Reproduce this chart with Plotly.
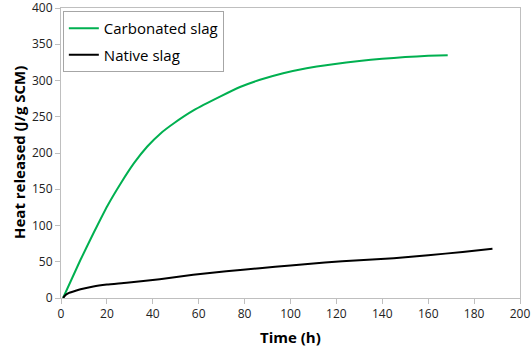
import plotly.graph_objects as go

carb_t = [0.9, 8.4, 14.4, 20.2, 26, 31.8, 37.6, 43.4, 49.2, 57.9, 69.5, 78, 86.7, 96.8, 107, 118.6, 130, 140, 150, 160, 168.5]
carb_v = [0, 52, 91, 127, 158, 186, 209, 227, 241, 259, 278, 291, 301, 310, 317, 322.5, 327, 330, 332.3, 334, 335]

nat_t = [0.9, 2, 3.5, 5.4, 9, 14.1, 20, 28.6, 43, 57.6, 72, 86.6, 100, 115, 130, 145, 160, 175, 188]
nat_v = [0, 4, 7, 9, 12.5, 16, 18.5, 21, 26, 32, 37, 41, 45, 49, 52, 55, 59, 63.5, 68]

x_ticks = [0, 20, 40, 60, 80, 100, 120, 140, 160, 180, 200]
y_ticks = [0, 50, 100, 150, 200, 250, 300, 350, 400]

font = "Open Sans"
fig = go.Figure()
fig.add_trace(go.Scatter(x=carb_t, y=carb_v, mode="lines", name="Carbonated slag", legendgroup="a",
                         line=dict(color="#00b050", width=2, shape="spline", smoothing=0.5)))
fig.add_trace(go.Scatter(x=nat_t, y=nat_v, mode="lines", name="Native slag", legendgroup="b",
                         line=dict(color="#000000", width=2, shape="spline", smoothing=0.5)))

axis_common = dict(showgrid=False, zeroline=False, showline=True, linecolor="#bfbfbf",
                   linewidth=1, mirror=True, ticks="outside", ticklen=5, tickcolor="#bfbfbf",
                   automargin=False, ticklabeloverflow="allow",
                   tickfont=dict(family=font, size=12, color="#222"))
fig.update_xaxes(range=[0, 200], tickvals=x_ticks, **axis_common)
fig.update_yaxes(range=[0, 400], tickvals=y_ticks, **axis_common)

fig.add_annotation(text="<b>Time (h)</b>", xref="paper", yref="paper", x=0.499, y=-0.135,
                   xanchor="center", yanchor="middle", showarrow=False,
                   font=dict(family=font, size=15, color="#000"))
fig.add_annotation(text="<b>Heat released (J/g SCM)</b>", xref="paper", yref="paper", x=-0.0915, y=0.5,
                   xanchor="center", yanchor="middle", showarrow=False, textangle=-90,
                   font=dict(family=font, size=15, color="#000"))

fig.update_layout(
    width=532, height=350,
    margin=dict(l=61, r=12, t=8, b=52),
    plot_bgcolor="white", paper_bgcolor="white",
    showlegend=True,
    legend=dict(x=0.004, y=0.99, xanchor="left", yanchor="top",
                bordercolor="#a6a6a6", borderwidth=1, bgcolor="white",
                font=dict(family=font, size=15, color="#000"),
                itemwidth=30, tracegroupgap=4),
)
fig.write_html("out.html", config={"displayModeBar": False},
               post_script="document.body.style.margin='0';document.body.style.overflow='hidden';")
